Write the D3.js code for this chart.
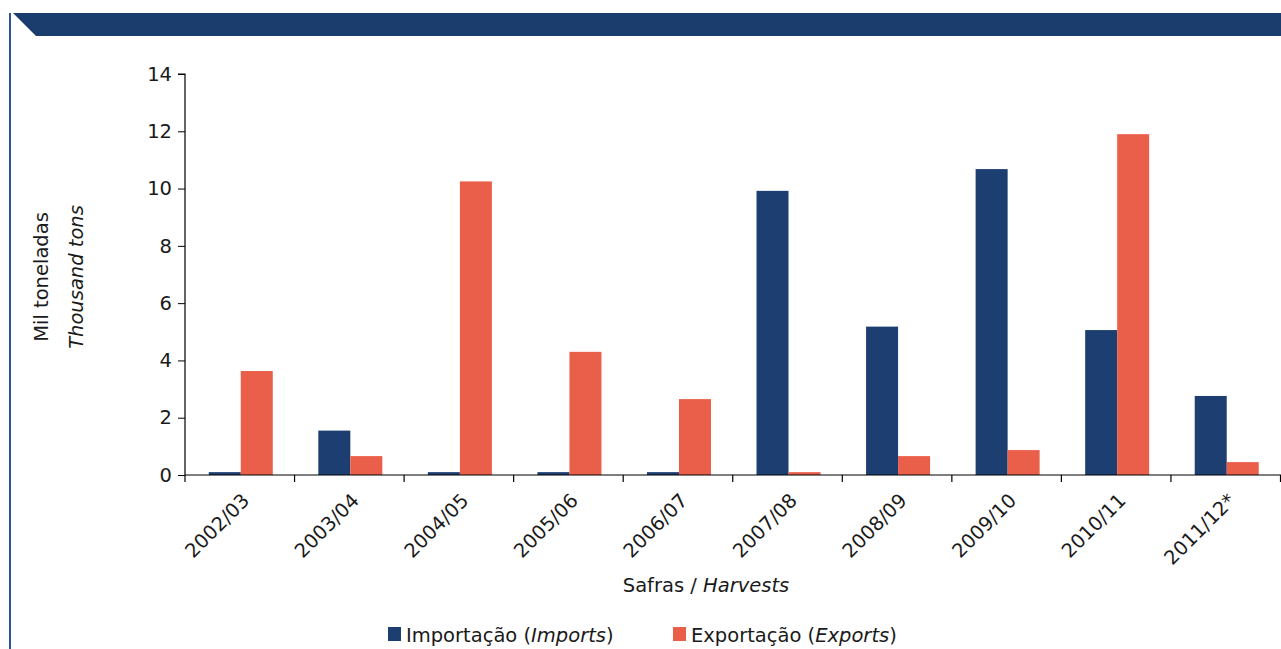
<!DOCTYPE html>
<html><head><meta charset="utf-8">
<script src="https://cdn.jsdelivr.net/npm/d3@7/dist/d3.min.js"></script>
<style>
html,body{margin:0;padding:0;background:#fff;}
svg{display:block;font-family:"DejaVu Sans",sans-serif;}
</style></head>
<body>
<svg id="chart" width="1281" height="649"></svg>
<script>
const categories = ["2002/03","2003/04","2004/05","2005/06","2006/07","2007/08","2008/09","2009/10","2010/11","2011/12*"];
const imports = [0.1, 1.55, 0.1, 0.1, 0.1, 9.92, 5.18, 10.68, 5.06, 2.76];
const exports = [3.63, 0.66, 10.25, 4.3, 2.65, 0.1, 0.66, 0.87, 11.9, 0.45];
const yTicks = [0,2,4,6,8,10,12,14];
const seriesNames = ["Importação", "Exportação"];
const seriesEn = ["Imports", "Exports"];
const colors = ["#1c3e70", "#ea5f4a"];
const FONT = "'DejaVu Sans',sans-serif";
const FS = 19.5;

const svg = d3.select("#chart");

// frame / header
svg.append("rect").attr("x",9).attr("y",13).attr("width",2).attr("height",636).attr("fill","#2b5590");
svg.append("path").attr("d","M10,13 L1281,13 L1281,36 L36,36 L13,13 Z").attr("fill","#1b3d6e");

const x0 = 185, x1 = 1280.5, yTop = 74, yBot = 475;
const x = d3.scaleBand().domain(categories).range([x0, x1]).paddingInner(0).paddingOuter(0);
const y = d3.scaleLinear().domain([0,14]).range([yBot, yTop]);
const bw = 32;

const g = svg.append("g");
categories.forEach((c,i)=>{
  const cx = x(c) + x.bandwidth()/2 + 1;
  [imports[i], exports[i]].forEach((v,s)=>{
    g.append("rect")
      .attr("x", cx - bw + s*bw)
      .attr("y", y(v))
      .attr("width", bw)
      .attr("height", y(0)-y(v))
      .attr("fill", colors[s]);
  });
});

// y axis
const ya = svg.append("g").attr("transform",`translate(${x0},0)`)
  .call(d3.axisLeft(y).tickValues(yTicks).tickSize(7).tickPadding(6).tickFormat(d3.format("d")));
ya.attr("font-family",FONT).attr("font-size",FS);
ya.select(".domain").attr("stroke","#000").attr("stroke-width",1.2).attr("d",`M-7,${yTop}H0V${yBot}`);
ya.selectAll("text").attr("fill","#1a1a1a");
ya.selectAll(".tick line").attr("stroke","#000");

// x axis
const xa = svg.append("g").attr("transform",`translate(0,${yBot})`)
  .call(d3.axisBottom(x).tickSize(0).tickFormat(""));
xa.attr("font-family",FONT).attr("font-size",FS);
xa.select(".domain").attr("stroke","#000").attr("stroke-width",1.2).attr("d",`M${x0},0H${x1+5}`);
const bounds = categories.map(c=>x(c)).concat([x1]);
xa.selectAll(".bt").data(bounds).enter().append("line").attr("class","bt")
  .attr("x1",d=>d).attr("x2",d=>d).attr("y1",0).attr("y2",7).attr("stroke","#000").attr("stroke-width",1.2);
xa.selectAll(".xl").data(categories).enter().append("text").attr("class","xl")
  .attr("transform",d=>`translate(${x(d)+x.bandwidth()/2+6},${22}) rotate(-45)`)
  .attr("text-anchor","end").attr("fill","#1a1a1a").attr("dy","0.35em")
  .text(d=>d);

// axis titles
const yt = svg.append("text").attr("transform","translate(48,277) rotate(-90)")
  .attr("text-anchor","middle").attr("font-size",FS).attr("fill","#1a1a1a");
yt.append("tspan").attr("x",0).attr("dy",0).text("Mil toneladas");
yt.append("tspan").attr("x",0).attr("dy",35).attr("font-style","italic").text("Thousand tons");

const xt = svg.append("text").attr("x",706).attr("y",592).attr("text-anchor","middle").attr("font-size",FS).attr("fill","#1a1a1a");
xt.append("tspan").text("Safras / ");
xt.append("tspan").attr("font-style","italic").text("Harvests");

// legend
const legX = [388, 673];
seriesNames.forEach((n,i)=>{
  svg.append("rect").attr("x",legX[i]).attr("y",627).attr("width",13).attr("height",14).attr("fill",colors[i]);
  const t = svg.append("text").attr("x",legX[i]+18).attr("y",642).attr("font-size",FS).attr("fill","#1a1a1a");
  t.append("tspan").text(n+" (");
  t.append("tspan").attr("font-style","italic").text(seriesEn[i]);
  t.append("tspan").text(")");
});
</script>
</body></html>
